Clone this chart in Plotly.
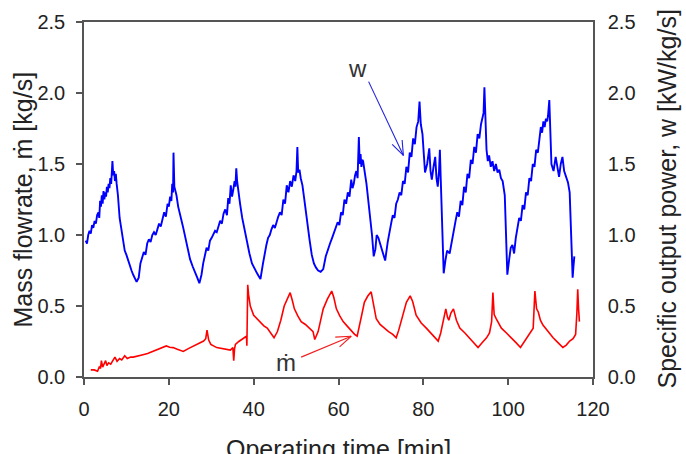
import math
import plotly.graph_objects as go

# ---- data ----
w_time = [
    0.4, 0.7, 1.0, 1.3, 1.6, 1.9, 2.2, 2.5, 2.8, 3.1, 3.4, 3.6, 3.8, 4.0, 4.2, 4.4, 4.6, 4.8, 5.0, 5.2,
    5.4, 5.6, 5.8, 6.0, 6.2, 6.4, 6.6, 6.7, 6.9, 7.1, 7.3, 7.5, 7.7, 8.0, 8.4, 8.8, 9.2, 9.6, 10.0, 10.4,
    10.8, 11.2, 11.6, 12.0, 12.4,
    12.9, 13.3, 13.7, 14.1, 14.5, 14.9, 15.3, 15.7, 16.1, 16.5, 16.9, 17.3, 17.7, 18.1, 18.5, 18.9, 19.3, 19.7, 20.0, 20.3,
    20.6, 20.8, 21.0, 21.1, 21.3, 21.5, 21.8, 22.2, 22.6, 23.0, 23.4, 23.9, 24.4, 25.0, 25.6, 26.2, 26.7, 27.2,
    27.7, 28.1, 28.5, 28.9, 29.3, 29.7, 30.1, 30.5, 30.9, 31.3, 31.7, 32.1, 32.5, 32.9, 33.3, 33.7, 34.0, 34.3, 34.6, 34.9,
    35.2, 35.5, 35.7, 35.9, 36.1, 36.4, 36.8, 37.3, 37.8, 38.4, 39.0, 39.6, 40.2, 40.8, 41.2, 41.6,
    42.2, 42.6, 43.0, 43.4, 43.8, 44.2, 44.6, 45.0, 45.4, 45.8, 46.2, 46.6, 47.0, 47.4, 47.8, 48.2, 48.6, 49.0, 49.4, 49.8,
    50.1, 50.3, 50.5, 50.8, 51.1, 51.5, 51.9, 52.3, 52.7, 53.2, 53.7, 54.2, 54.7, 55.2, 55.8,
    56.4, 57.0, 57.5, 58.0, 58.5, 59.0, 59.4, 59.8, 60.2, 60.6, 61.0, 61.4, 61.8, 62.2, 62.6, 63.0, 63.3, 63.6, 63.9, 64.2,
    64.5, 64.8, 65.0, 65.2, 65.4, 65.6, 65.8, 66.0, 66.2, 66.6, 67.0, 67.4, 67.9, 68.3, 68.7, 69.0, 69.4, 69.8, 70.4, 71.0,
    71.6, 72.0, 72.4, 72.8, 73.2, 73.6, 74.0, 74.4, 74.8, 75.2, 75.6, 76.0, 76.4, 76.8, 77.2, 77.6, 78.0, 78.4, 78.8, 79.1,
    79.4, 79.8, 80.4, 80.9, 81.4, 81.7, 82.0, 82.4, 82.8, 83.1, 83.4, 83.7, 83.9, 84.1, 84.3, 84.6, 84.8,
    85.2, 85.6, 86.2, 86.7, 87.2, 87.6, 88.0, 88.4, 88.8, 89.2, 89.6, 90.0, 90.4, 90.8, 91.2, 91.6, 92.0, 92.4, 92.8, 93.2,
    93.6, 93.9, 94.2, 94.4, 94.7, 94.9, 95.2, 95.5, 95.9, 96.3, 96.7, 97.1, 97.5, 97.9, 98.3, 98.7, 99.2, 99.5, 99.8,
    100.2, 100.6, 101.0, 101.4, 101.8, 102.2, 102.6, 103.0, 103.4, 103.8, 104.2, 104.6, 105.0, 105.4, 105.8, 106.2, 106.6, 107.0, 107.4, 107.7,
    108.0, 108.3, 108.6, 108.9, 109.2, 109.4, 109.7, 110.0, 110.2, 110.7, 111.2, 111.6, 112.0, 112.4, 112.8, 113.2, 113.6, 114.1, 114.5, 114.8,
    115.0, 115.2, 115.4, 115.6,
]
w_value = [
    0.96, 0.94, 1.00, 1.03, 1.01, 1.07, 1.05, 1.10, 1.08, 1.14, 1.16, 1.12, 1.24, 1.20, 1.28, 1.22, 1.31, 1.25, 1.30, 1.27,
    1.34, 1.30, 1.36, 1.33, 1.40, 1.36, 1.46, 1.52, 1.42, 1.45, 1.38, 1.43, 1.36, 1.28, 1.12, 1.04, 0.96, 0.89, 0.86, 0.82,
    0.78, 0.75, 0.72, 0.69, 0.67,
    0.70, 0.80, 0.84, 0.88, 0.86, 0.94, 0.97, 0.95, 1.00, 1.02, 1.00, 1.05, 1.08, 1.06, 1.12, 1.16, 1.13, 1.22, 1.20, 1.27,
    1.24, 1.36, 1.30, 1.58, 1.34, 1.32, 1.28, 1.20, 1.14, 1.10, 1.05, 0.98, 0.91, 0.83, 0.78, 0.74, 0.70, 0.66,
    0.72, 0.80, 0.85, 0.91, 0.89, 0.96, 0.98, 1.00, 1.03, 1.02, 1.07, 1.10, 1.08, 1.15, 1.18, 1.14, 1.26, 1.22, 1.35, 1.27,
    1.32, 1.38, 1.34, 1.47, 1.38, 1.30, 1.22, 1.12, 1.04, 0.96, 0.87, 0.80, 0.76, 0.73, 0.71, 0.69,
    0.80, 0.88, 0.93, 0.98, 1.00, 1.04, 1.07, 1.05, 1.10, 1.13, 1.16, 1.14, 1.25, 1.22, 1.35, 1.30, 1.38, 1.34, 1.42, 1.38,
    1.45, 1.62, 1.44, 1.46, 1.40, 1.35, 1.26, 1.16, 1.07, 0.96, 0.86, 0.80, 0.77, 0.75, 0.74,
    0.76, 0.85, 0.90, 0.94, 0.98, 1.02, 1.06, 1.09, 1.07, 1.16, 1.14, 1.25, 1.22, 1.30, 1.27, 1.39, 1.33, 1.36, 1.42, 1.45,
    1.40, 1.69, 1.50, 1.57, 1.48, 1.53, 1.52, 1.46, 1.44, 1.36, 1.25, 1.16, 1.00, 0.85, 0.90, 1.00, 0.98, 0.94, 0.88, 0.82,
    0.95, 1.03, 1.08, 1.14, 1.12, 1.22, 1.25, 1.30, 1.28, 1.38, 1.36, 1.48, 1.44, 1.58, 1.55, 1.68, 1.64, 1.76, 1.80, 1.94,
    1.78, 1.71, 1.44, 1.50, 1.61, 1.45, 1.39, 1.48, 1.55, 1.40, 1.34, 1.45, 1.60, 1.40, 1.21, 0.95, 0.73,
    0.82, 0.89, 0.87, 0.96, 1.05, 1.10, 1.16, 1.13, 1.24, 1.21, 1.34, 1.30, 1.43, 1.40, 1.53, 1.50, 1.62, 1.58, 1.71, 1.68,
    1.78, 1.82, 1.86, 2.04, 1.75, 1.60, 1.52, 1.56, 1.48, 1.52, 1.45, 1.50, 1.44, 1.46, 1.40, 1.38, 1.28, 1.00, 0.72,
    0.82, 0.91, 0.93, 0.87, 0.98, 1.07, 1.12, 1.10, 1.21, 1.18, 1.30, 1.28, 1.40, 1.38, 1.50, 1.48, 1.60, 1.58, 1.70, 1.76,
    1.72, 1.80, 1.76, 1.82, 1.80, 1.84, 1.95, 1.70, 1.50, 1.45, 1.55, 1.48, 1.41, 1.50, 1.55, 1.45, 1.41, 1.37, 1.30, 0.96,
    0.85, 0.70, 0.78, 0.85,
]

m_time = [
    1.6, 2.4, 3.2, 3.6, 3.9, 4.1, 4.4, 4.8, 5.1, 5.4, 5.8, 6.3, 6.8, 7.3, 7.8, 8.4, 8.9, 9.6, 10.2, 11.0,
    11.6, 12.5, 13.9, 15.0, 16.3, 17.8, 19.4, 20.2, 21.0, 22.0, 23.4, 24.6, 25.8, 27.0, 28.2, 28.7, 29.0, 29.4, 29.9, 31.3,
    32.5, 33.7, 34.5, 35.1, 35.3, 35.5, 35.7, 36.5, 37.2, 38.0, 38.3,
    38.4, 38.6, 38.8, 39.2, 40.0, 40.8, 41.6, 42.4, 43.2, 44.0,
    44.8, 45.6, 46.4, 47.2, 48.0, 48.6, 49.1, 49.6, 50.4, 51.2,
    52.2, 53.2, 54.0, 54.4, 55.2, 55.8, 56.4, 57.4, 58.4, 58.9,
    59.5, 60.3, 61.1, 62.0, 62.8, 63.8, 64.4, 64.9, 65.5, 66.1,
    66.9, 67.7, 68.2, 68.9, 69.8, 70.8, 71.8, 72.8, 73.6, 74.2,
    74.8, 75.4, 76.0, 76.9, 77.5, 78.3, 79.5, 80.7, 81.8, 82.7,
    83.5, 84.1, 84.6, 85.0, 85.3, 85.7, 86.0, 86.5, 87.1, 87.8,
    88.6, 89.8, 90.9, 92.0, 92.9, 93.8, 94.9, 95.6, 96.1, 96.4,
    96.7, 97.2, 98.4, 99.6, 100.8, 101.9, 102.9, 103.6, 104.3, 105.1,
    105.9, 106.3, 106.7, 107.1, 107.6, 108.2, 109.4, 110.6, 111.8, 112.9,
    113.7, 114.5, 115.3, 115.9, 116.2, 116.4, 116.6, 116.8,
]
m_value = [
    0.05, 0.05, 0.04, 0.07, 0.06, 0.115, 0.07, 0.09, 0.115, 0.08, 0.10, 0.09, 0.12, 0.14, 0.11, 0.13, 0.12, 0.15, 0.13, 0.14,
    0.14, 0.145, 0.157, 0.165, 0.18, 0.195, 0.219, 0.21, 0.207, 0.195, 0.18, 0.20, 0.219, 0.235, 0.253, 0.27, 0.33, 0.26, 0.23, 0.207,
    0.20, 0.196, 0.19, 0.207, 0.115, 0.2, 0.23, 0.25, 0.264, 0.275, 0.287,
    0.22, 0.65, 0.58, 0.50, 0.435, 0.41, 0.378, 0.36, 0.344, 0.31,
    0.276, 0.32, 0.40, 0.50, 0.55, 0.594, 0.54, 0.48, 0.43, 0.39,
    0.37, 0.344, 0.32, 0.264, 0.32, 0.40, 0.48, 0.55, 0.605, 0.56,
    0.48, 0.43, 0.39, 0.36, 0.33, 0.30, 0.287, 0.366, 0.44, 0.526,
    0.57, 0.60, 0.52, 0.41, 0.37, 0.344, 0.32, 0.30, 0.276, 0.33,
    0.39, 0.46, 0.526, 0.571, 0.53, 0.435, 0.38, 0.344, 0.31, 0.28,
    0.253, 0.31, 0.39, 0.46, 0.48, 0.42, 0.40, 0.45, 0.48, 0.40,
    0.344, 0.31, 0.276, 0.24, 0.208, 0.24, 0.276, 0.31, 0.39, 0.594,
    0.44, 0.41, 0.344, 0.31, 0.276, 0.24, 0.208, 0.24, 0.276, 0.31,
    0.344, 0.605, 0.48, 0.458, 0.40, 0.366, 0.32, 0.276, 0.24, 0.208,
    0.225, 0.253, 0.27, 0.30, 0.45, 0.617, 0.48, 0.39,
]

x_ticks = [0, 20, 40, 60, 80, 100, 120]
y_ticks = [0.0, 0.5, 1.0, 1.5, 2.0, 2.5]
y_tick_text = ["0.0", "0.5", "1.0", "1.5", "2.0", "2.5"]

# annotation anchors (label position, arrow tail, arrow tip) in data units
w_label = (64.5, 2.17)
w_tail, w_tip = (67.1, 2.08), (75.3, 1.56)
m_label = (47.6, 0.10)
m_tail, m_tip = (51.2, 0.14), (63.0, 0.287)

# ---- layout geometry ----
W, H = 686, 454
ML, MR, MT, MB = 84, 93, 11, 77
XR, YR = (0, 120), (0, 2.5)
sx = (W - ML - MR) / (XR[1] - XR[0])
sy = (H - MT - MB) / (YR[1] - YR[0])
FONT = "Liberation Sans, Arial, Helvetica, sans-serif"
TXT = "#222222"
AX = "#555555"

fig = go.Figure()
fig.add_trace(go.Scatter(x=w_time, y=w_value, mode="lines",
                         line=dict(color="#0000FF", width=1.9), showlegend=False))
fig.add_trace(go.Scatter(x=m_time, y=m_value, mode="lines",
                         line=dict(color="#FF0000", width=1.6), showlegend=False))
# invisible trace to activate the secondary axis
fig.add_trace(go.Scatter(x=[None], y=[None], yaxis="y2", showlegend=False))


def open_arrow(tail, tip, color, length=16, half_angle=20):
    dx = (tip[0] - tail[0]) * sx
    dy = (tip[1] - tail[1]) * sy
    n = math.hypot(dx, dy)
    ux, uy = dx / n, dy / n
    xs, ys = [tail[0], tip[0], None], [tail[1], tip[1], None]
    for sgn in (1, -1):
        a = math.radians(half_angle) * sgn
        rx = ux * math.cos(a) - uy * math.sin(a)
        ry = ux * math.sin(a) + uy * math.cos(a)
        xs += [tip[0] - length * rx / sx, tip[0], None]
        ys += [tip[1] - length * ry / sy, tip[1], None]
    fig.add_trace(go.Scatter(x=xs, y=ys, mode="lines", line=dict(color=color, width=1.1),
                             showlegend=False, hoverinfo="skip"))


open_arrow(w_tail, w_tip, "#2020E0")
open_arrow(m_tail, m_tip, "#F02020")

axis_common = dict(showline=True, linecolor=AX, linewidth=1.5, showgrid=False, zeroline=False,
                   tickfont=dict(family=FONT, size=20, color=TXT), tickcolor=AX, tickwidth=1.5)

fig.update_layout(
    width=W, height=H,
    margin=dict(l=ML, r=MR, t=MT, b=MB),
    paper_bgcolor="white", plot_bgcolor="white",
    xaxis=dict(range=list(XR), tickvals=x_ticks, ticks="outside", ticklen=6,
               ticklabelstandoff=7, mirror=True, **axis_common),
    yaxis=dict(range=list(YR), tickvals=y_ticks, ticktext=y_tick_text, ticks="outside",
               ticklen=6, ticklabelstandoff=7, **axis_common),
    yaxis2=dict(range=list(YR), tickvals=y_ticks, ticktext=y_tick_text, overlaying="y",
                side="right", ticks="", ticklabelstandoff=9, **axis_common),
    annotations=[
        dict(text="Operating time [min]", xref="paper", yref="paper", x=0.5, y=0,
             xanchor="center", yanchor="top", yshift=-56, showarrow=False,
             font=dict(family=FONT, size=25, color=TXT)),
        dict(text="Mass flowrate, ṁ [kg/s]", xref="paper", yref="paper", x=0, y=0.5,
             xanchor="center", yanchor="middle", xshift=-62, textangle=-90, showarrow=False,
             font=dict(family=FONT, size=25, color=TXT)),
        dict(text="Specific output power, w [kW/kg/s]", xref="paper", yref="paper", x=1, y=0.5,
             xanchor="center", yanchor="middle", xshift=73, textangle=-90, showarrow=False,
             font=dict(family=FONT, size=25, color=TXT)),
        dict(text="w", x=w_label[0], y=w_label[1], xref="x", yref="y", showarrow=False,
             font=dict(family=FONT, size=24, color="#333333")),
        dict(text="ṁ", x=m_label[0], y=m_label[1], xref="x", yref="y", showarrow=False,
             font=dict(family=FONT, size=24, color="#333333")),
    ],
)

fig.write_html("out.html")
